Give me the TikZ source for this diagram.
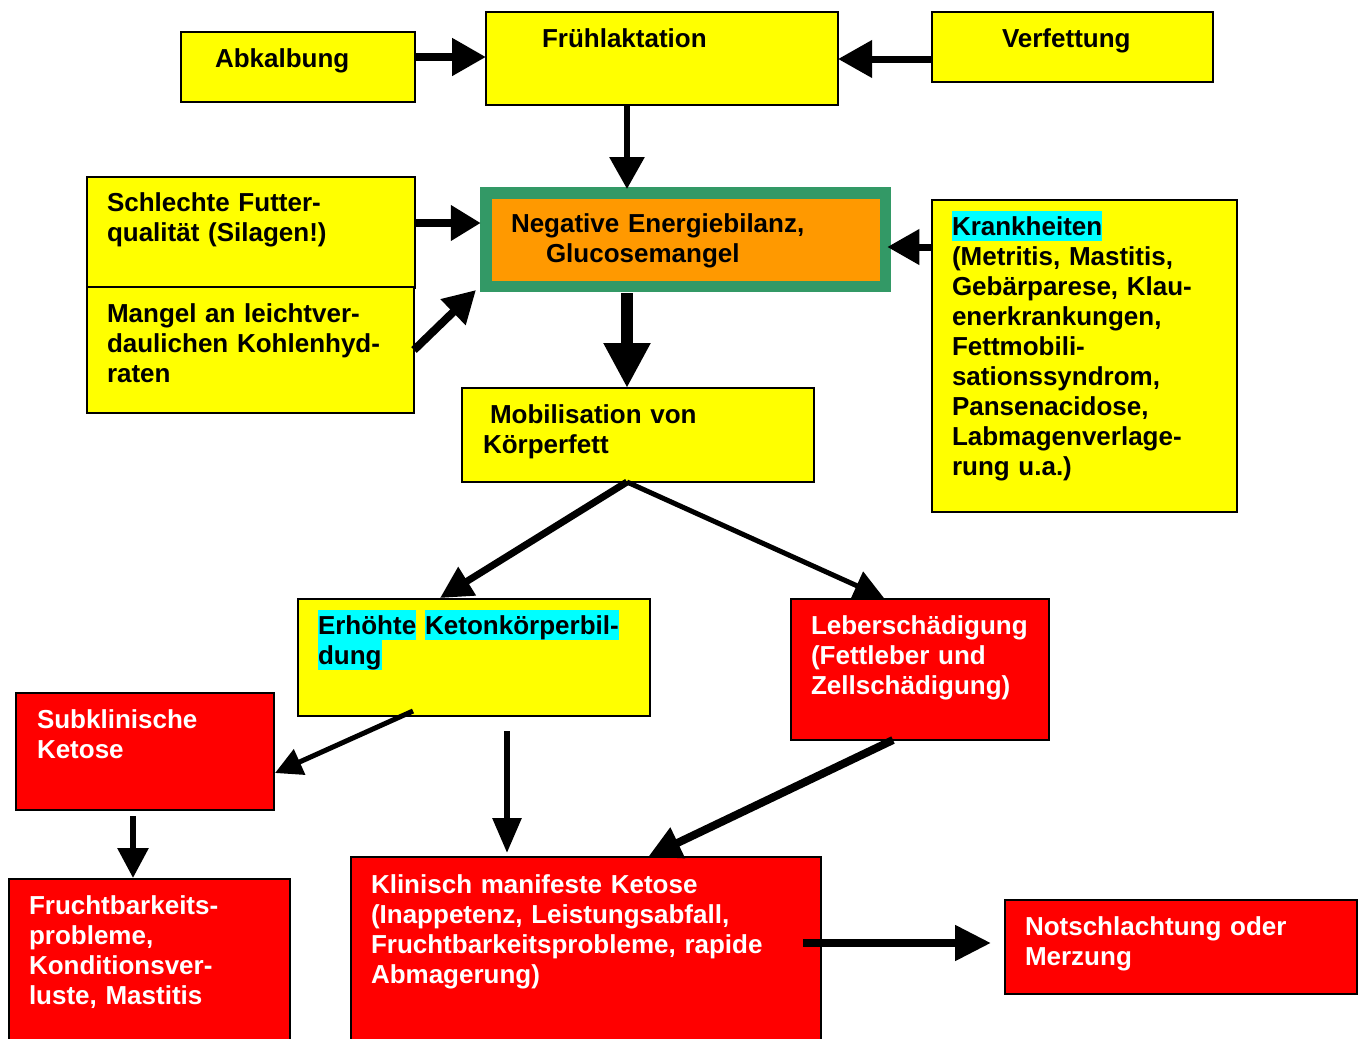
\documentclass[tikz,border=0pt]{standalone}
\usepackage{fontspec}
\setmainfont{Liberation Sans}
\usetikzlibrary{arrows.meta,calc}
\definecolor{yel}{HTML}{FFFF00}
\definecolor{org}{HTML}{FF9900}
\definecolor{grn}{HTML}{339966}
\definecolor{rd}{HTML}{FF0000}
\definecolor{hlcyan}{HTML}{00FFFF}
\newcommand\hlc[1]{{\setlength\fboxsep{0pt}\colorbox{hlcyan}{\rule[-6pt]{0pt}{30pt}#1}}}
\begin{document}
\begin{tikzpicture}[x=1pt,y=-1pt,
 box/.style={draw=black, line width=1.5pt, anchor=north west, inner sep=0pt, outer sep=0pt},
 ybox/.style={box, fill=yel},
 rbox/.style={box, fill=rd},
 txt/.style={anchor=base west, inner sep=0pt, outer sep=0pt, text width=520pt, align=left, font=\bfseries\fontsize{26}{30}\selectfont},
 wtxt/.style={txt, text=white},
 arr/.style args={#1/#2/#3}{draw=black, line width=#1pt, -{Triangle[length=#2pt,width=#3pt]}}
]
\clip (0,0) rectangle (1361,1039);
\fill[white] (0,0) rectangle (1361,1039);

% boxes
\node[ybox, minimum width=234pt, minimum height=70pt] (abk) at (181,32) {};
\node[ybox, minimum width=352pt, minimum height=93pt] (fruh) at (486,12) {};
\node[ybox, minimum width=281pt, minimum height=70pt] (verf) at (932,12) {};
\node[ybox, minimum width=328pt, minimum height=111pt] (schl) at (87,177) {};
\node[ybox, minimum width=327pt, minimum height=126pt] (mang) at (87,287) {};
\node[draw=grn, line width=11.5pt, fill=org, anchor=north west, inner sep=0pt, outer sep=0pt,
      minimum width=399.5pt, minimum height=93.5pt] (neb) at (485.75,192.75) {};
\node[ybox, minimum width=305pt, minimum height=312pt] (krank) at (932,200) {};
\node[ybox, minimum width=352pt, minimum height=94pt] (mob) at (462,388) {};
\node[ybox, minimum width=352pt, minimum height=117pt] (erh) at (298,599) {};
\node[rbox, minimum width=258pt, minimum height=141pt] (leber) at (791,599) {};
\node[rbox, minimum width=258pt, minimum height=117pt] (subkl) at (16,693) {};
\node[rbox, minimum width=281pt, minimum height=170pt] (frucht) at (9,879) {};
\node[rbox, minimum width=470pt, minimum height=190pt] (klin) at (351,857) {};
\node[rbox, minimum width=352pt, minimum height=94pt] (notsch) at (1005,900) {};

% arrows
\draw[arr=8/34/36] ($(abk.north east)+(0,25)$) -- ($(fruh.north west)+(0,45)$);
\draw[arr=7/34/36] ($(verf.north west)+(0,47)$) -- ($(fruh.north east)+(0,47)$);
\draw[arr=6/32/34] ($(fruh.south west)+(141,0)$) -- ($(neb.north west)+(141.25,-3.75)$);
\draw[arr=8/30/34] ($(schl.north east)+(0,46)$) -- ($(neb.north west)+(-5,30.25)$);
\draw[arr=8/32/34] ($(mang.north east)+(0,63)$) -- ($(neb.north west)+(-9.75,97.25)$);
\draw[arr=7/32/34] ($(krank.north west)+(0,47)$) -- ($(neb.north east)+(2,54.25)$);
\draw[arr=12/45/44] ($(neb.south west)+(141.25,6.75)$) -- ($(mob.north west)+(165,0)$);
\draw[arr=7/32/32] ($(mob.south west)+(165,0)$) -- ($(erh.north west)+(142,-1)$);
\draw[arr=5/30/30] ($(mob.south west)+(165,0)$) -- ($(leber.north west)+(93,-1)$);
\draw[arr=5/27/27] ($(erh.south west)+(115,-5)$) -- ($(subkl.north east)+(1,80)$);
\draw[arr=6/35/28] ($(erh.south west)+(209,15)$) -- ($(klin.north west)+(156,-4)$);
\draw[arr=8/33/32] ($(leber.south west)+(102,0)$) -- ($(klin.north west)+(297,0)$);
\draw[arr=6/30/30] ($(subkl.south west)+(117,6)$) -- ($(frucht.north west)+(124,-1)$);
\draw[arr=8/36/34] ($(klin.north east)+(-18,86)$) -- ($(notsch.north west)+(-14,43)$);

% texts
\node[txt] (tabk) at (215,67) {Abkalbung};
\node[txt] (tfruh) at (542,47) {Frühlaktation};
\node[txt] (tverf) at (1002,47) {Verfettung};
\node[txt] (tschl) at (107,211) {Schlechte Futter-\\qualität (Silagen!)};
\node[txt] (tmang) at (107,322) {Mangel an leichtver-\\daulichen Kohlenhyd-\\raten};
\node[txt] (tneb) at (511,232) {Negative Energiebilanz,\\\hspace*{35pt}Glucosemangel};
\node[txt] (tkrank) at (952,235) {\hlc{Krankheiten}\\(Metritis, Mastitis,\\Gebärparese, Klau-\\enerkrankungen,\\Fettmobili-\\sationssyndrom,\\Pansenacidose,\\Labmagenverlage-\\rung u.a.)};
\node[txt] (tmob) at (483,423) {\hspace*{7pt}Mobilisation von\\Körperfett};
\node[txt] (terh) at (318,634) {\hlc{Erhöhte}\hspace{9pt}\hlc{Ketonkörperbil-}\\\hlc{dung}};
\node[wtxt] (tleber) at (811,634) {Leberschädigung\\(Fettleber und\\Zellschädigung)};
\node[wtxt] (tsubkl) at (37,728) {Subklinische\\Ketose};
\node[wtxt] (tfrucht) at (29,914) {Fruchtbarkeits-\\probleme,\\Konditionsver-\\luste, Mastitis};
\node[wtxt] (tklin) at (371,893) {Klinisch manifeste Ketose\\(Inappetenz, Leistungsabfall,\\Fruchtbarkeitsprobleme, rapide\\Abmagerung)};
\node[wtxt] (tnotsch) at (1025,935) {Notschlachtung oder\\Merzung};
\end{tikzpicture}
\end{document}
